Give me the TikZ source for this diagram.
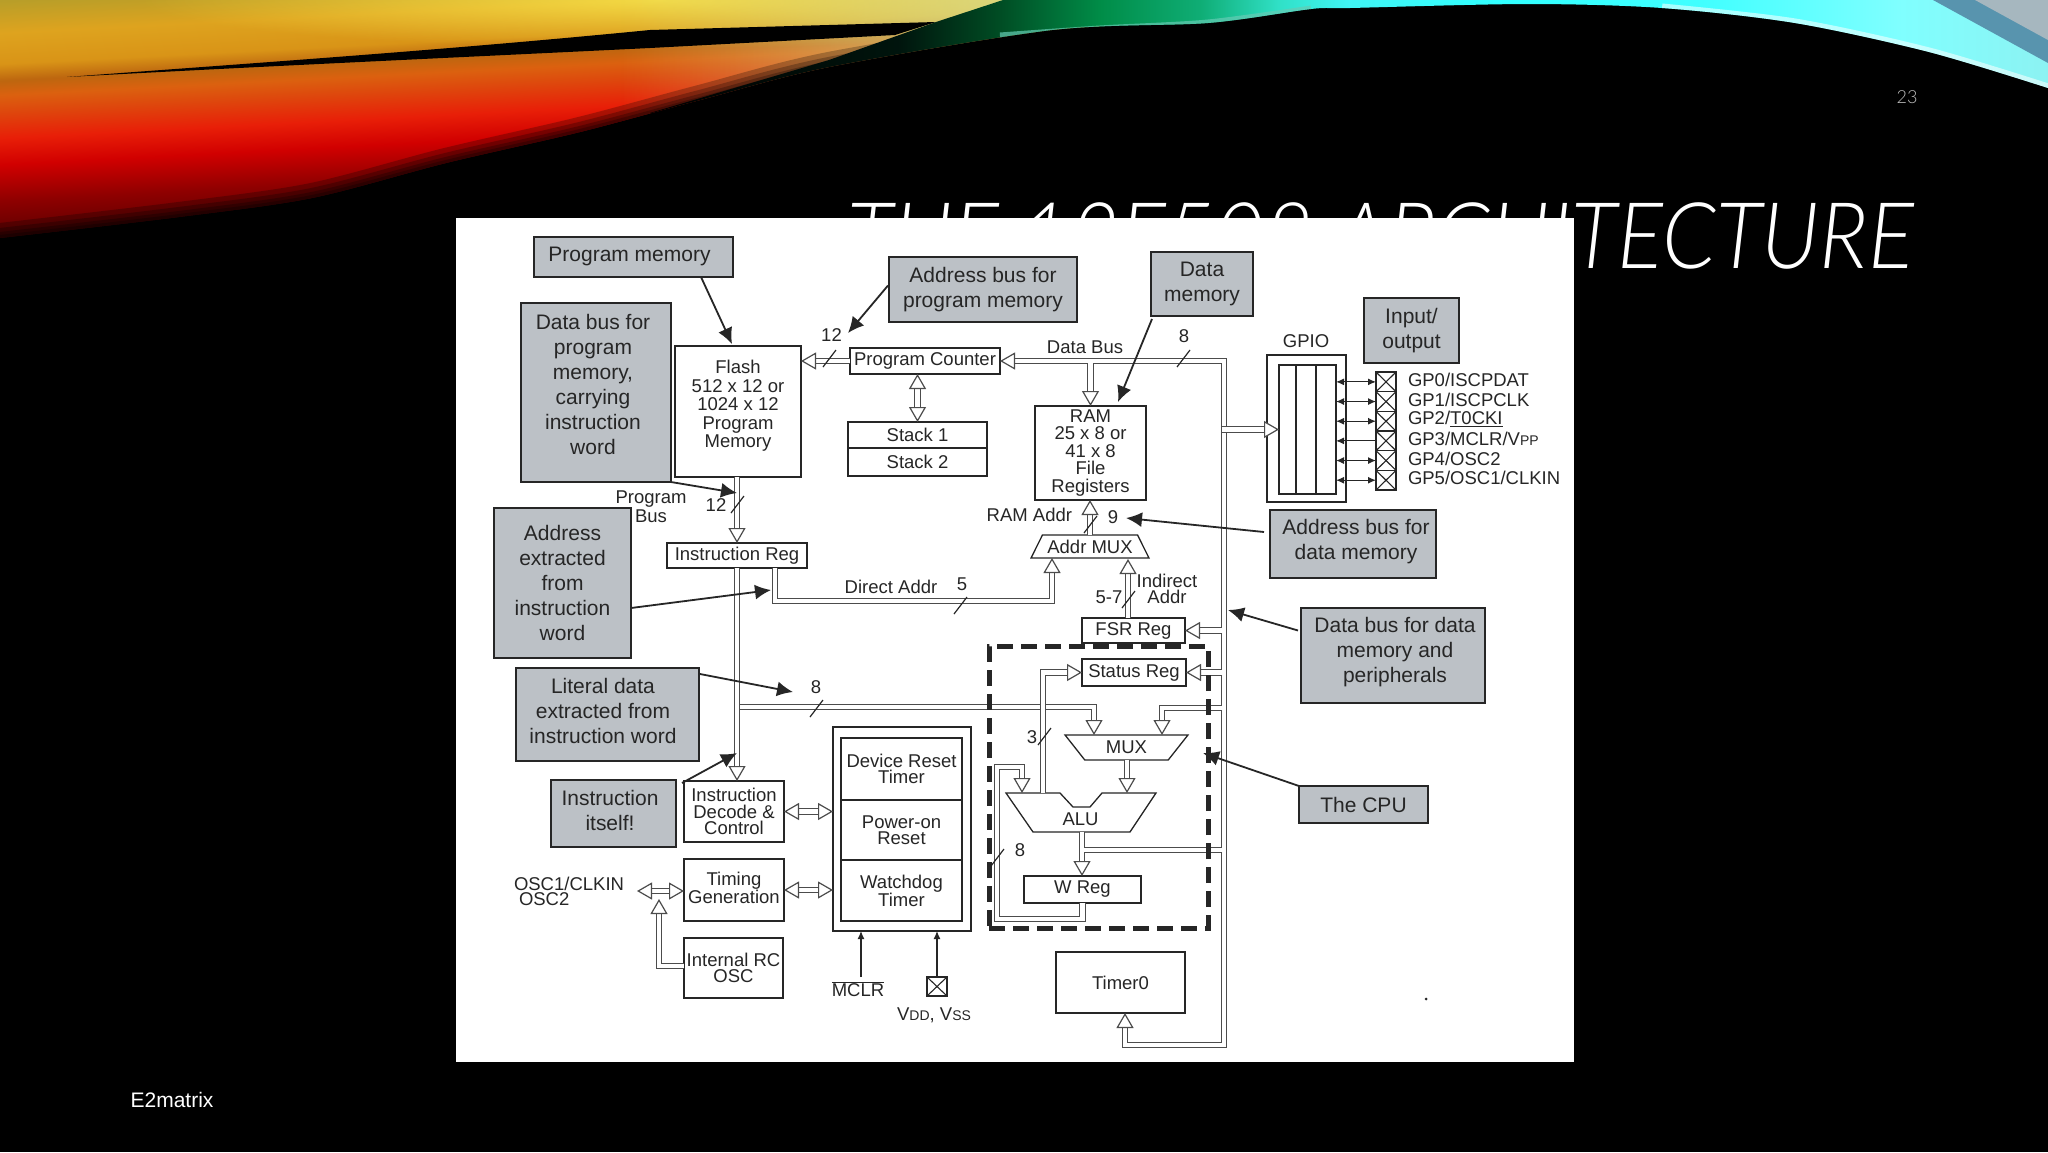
\documentclass[tikz,border=0pt]{standalone}
\usepackage{fontspec}
\usepackage{graphicx}
\setmainfont{Liberation Sans}
\newfontfamily\titlefont[ItalicFont={Lato Light Italic}]{Lato Light}
\usetikzlibrary{arrows.meta,calc,shapes.geometric,fadings}

\definecolor{calloutgray}{HTML}{BCC1C6}
\definecolor{inkgray}{HTML}{262626}
\newcommand{\calloutfont}{\fontsize{21pt}{25pt}\selectfont}
\newcommand{\blockfont}{\fontsize{18.5pt}{18.5pt}\selectfont}
\newcommand{\smallcap}[1]{{\fontsize{14pt}{14pt}\selectfont #1}}

\tikzfading[name=softglow,inner color=transparent!0,outer color=transparent!100]

\pgfdeclareverticalshading{warmband}{100bp}{
  rgb(0bp)=(.2,0,0);
  rgb(45.5bp)=(.38,0,0);
  rgb(46.9bp)=(.56,0,0);
  rgb(48.4bp)=(.82,0,0);
  rgb(49.5bp)=(.91,.12,.03);
  rgb(50.6bp)=(.87,.28,.05);
  rgb(51.3bp)=(.86,.38,.06);
  rgb(51.9bp)=(.74,.40,.06);
  rgb(52.6bp)=(.85,.58,.09);
  rgb(53.9bp)=(.87,.64,.12);
  rgb(55.25bp)=(.72,.62,.16);
  rgb(100bp)=(.72,.62,.16)}
\pgfdeclarehorizontalshading{coolband}{100bp}{
  rgb(0bp)=(0,0,0);
  rgb(25bp)=(0,0,0);
  rgb(33.9bp)=(0,.08,.05);
  rgb(37.5bp)=(0,.3,.14);
  rgb(41.1bp)=(0,.55,.28);
  rgb(44.7bp)=(.06,.68,.46);
  rgb(47.5bp)=(.19,.88,.78);
  rgb(50bp)=(.25,.96,.96);
  rgb(55.4bp)=(.19,1,1);
  rgb(62.6bp)=(.25,1,1);
  rgb(69.7bp)=(.5,1,1);
  rgb(75bp)=(.55,.95,.95);
  rgb(100bp)=(.55,.95,.95)}

\tikzset{
  hollow/.tip={Triangle[open,fill=white,length=15pt,width=17pt,line width=1.2pt]},
  solidtip/.tip={Latex[length=16pt,width=15pt]},
  pintip/.tip={Latex[length=8pt,width=7pt]},
  block/.style={draw=inkgray,fill=white,line width=1.3pt,inner sep=0pt,outer sep=0pt,
    align=center,text=inkgray,font=\blockfont},
  callout/.style={draw=inkgray,fill=calloutgray,line width=2.2pt,inner sep=0pt,outer sep=0pt,
    align=center,text=inkgray,font=\calloutfont},
  calltext/.style={inner sep=0pt,outer sep=0pt,align=center,text=inkgray,font=\calloutfont},
  label/.style={inner sep=0pt,outer sep=0pt,align=center,text=inkgray,font=\blockfont},
  tight/.style={font=\fontsize{18.5pt}{16.5pt}\selectfont},
  busline/.style={draw=black!70,line width=1.2pt,double=white,double distance=4.5pt},
  bus/.style={busline,-{hollow}},
  busboth/.style={busline,{hollow}-{hollow}},
  callarrow/.style={draw=inkgray,line width=1.8pt,-{solidtip}},
  pinboth/.style={draw=inkgray,line width=1.2pt,{pintip}-{pintip}},
  pinin/.style={draw=inkgray,line width=1.2pt,-{pintip}},
  tick/.style={draw=inkgray,line width=1.2pt},
  xbox/.style={draw=inkgray,line width=1.3pt,inner sep=0pt,outer sep=0pt,
    path picture={\draw[inkgray,line width=1.1pt]
      (path picture bounding box.north west) -- (path picture bounding box.south east)
      (path picture bounding box.north east) -- (path picture bounding box.south west);}}
}

\begin{document}
\begin{tikzpicture}[x=1pt,y=-1pt]
  \useasboundingbox (0,0) rectangle (2048,1152);
  \fill[black] (0,0) rectangle (2048,1152);

  % slide background
  \begin{scope}
    \clip plot[smooth] coordinates {(0,238) (179,217) (312,198) (446,163) (580,132) (700,100) (829,67) (1052,30) (1208,23) (1311,9) (1350,8) (1528,4) (1662,8) (1795,23) (1929,52) (2048,88)} -- (2048,0) -- (0,0) -- cycle;
    \shade[shading=warmband,shading angle=3] (-100,-500) rectangle (1100,700);
    \fill[yellow!65!white,opacity=.65,path fading=softglow] (660,0) ellipse (520 and 48);
    \fill[yellow!55!green!35!white,opacity=.7,path fading=west] (620,0) rectangle (1040,130);
    \foreach \w in {30,20,12,6}
      \draw[black,opacity=.25,line width=\w pt] plot[smooth] coordinates {(0,238) (179,217) (312,198) (446,163) (580,132) (700,100) (829,67) (1052,30)};
    \fill[black] (67,77) .. controls (268,62) and (446,50) .. (650,30) -- (936,22) -- (895,35) -- (650,48) .. controls (446,58) and (268,66) .. (67,77) -- cycle;
    \shade[shading=coolband] (650,113) -- (829,60) -- (936,22) -- (1003,0) -- (2048,0) -- (2048,120) -- (650,120) -- cycle;
    \draw[cyan!45!green!60!white,opacity=.7,line width=7pt] plot[smooth] coordinates {(1000,36) (1100,29) (1208,23) (1311,9)};
    \draw[white,opacity=.55,line width=9pt] plot[smooth] coordinates {(1662,8) (1795,23) (1929,52) (2048,88)};
    \fill[cyan!60!black!85!white] (1933,0) -- (2048,63) -- (2048,0) -- cycle;
    \fill[cyan!20!gray!70!white] (1975,0) -- (2048,40) -- (2048,0) -- cycle;
  \end{scope}

  \node[anchor=base east,inner sep=0pt,text=white,font=\fontsize{92pt}{92pt}\selectfont\titlefont\itshape] (title) at (1914,268) {\scalebox{0.931}[1]{THE 12F508 ARCHITECTURE}};
  \node[anchor=center,inner sep=0pt,text=white!75!black,font=\fontsize{18pt}{18pt}\selectfont\titlefont] (pageno) at (1907,97) {23};
  \node[anchor=center,inner sep=0pt,text=white,font=\fontsize{21pt}{21pt}\selectfont] (footer) at (172,1100) {E2matrix};
  \node[fill=white,inner sep=0pt,minimum width=1118pt,minimum height=844pt] (panel) at (1015,640) {};

  % grey notes
  \node[callout,minimum width=199pt,minimum height=40pt] (progmem) at (633.5,257) {};
  \node[calltext] (progmemtext) at (629.5,256) {Program memory};
  \node[callout,minimum width=188pt,minimum height=65pt] (addrprog) at (983,289.5) {Address bus for\\program memory};
  \node[callout,minimum width=102pt,minimum height=64pt] (datamem) at (1202,284) {Data\\memory};
  \node[callout,minimum width=95pt,minimum height=65pt] (inout) at (1411.5,330.5) {Input/\\output};
  \node[callout,minimum width=150pt,minimum height=179pt] (dbprog) at (596,392.5) {};
  \node[calltext] (dbprogtext) at (593,384) {Data bus for\\program\\memory,\\carrying\\instruction\\word};
  \node[callout,minimum width=137pt,minimum height=150pt] (addrext) at (562.5,583) {Address\\extracted\\from\\instruction\\word};
  \node[callout,minimum width=183pt,minimum height=93pt] (literal) at (607.5,714.5) {};
  \node[calltext] (literaltext) at (603,711) {Literal data\\extracted from\\instruction word};
  \node[callout,minimum width=125pt,minimum height=67pt] (itself) at (613.5,813.5) {};
  \node[calltext] (itselftext) at (610,810.5) {Instruction\\itself!};
  \node[callout,minimum width=166pt,minimum height=68pt] (addrdata) at (1353,544) {};
  \node[calltext] (addrdatatext) at (1356,541.5) {Address bus for\\data memory};
  \node[callout,minimum width=184pt,minimum height=95pt] (dbdata) at (1393,655.5) {};
  \node[calltext] (dbdatatext) at (1395,652) {Data bus for data\\memory and\\peripherals};
  \node[callout,minimum width=129pt,minimum height=37pt] (cpucall) at (1363.5,804.5) {The CPU};

  % blocks
  \node[block,minimum width=126pt,minimum height=131pt] (flash) at (738,411.5) {};
  \node[label] (flashtext) at (738,406) {Flash\\512 x 12 or\\1024 x 12\\Program\\Memory};
  \node[block,minimum width=150pt,minimum height=26pt] (pc) at (925,361) {Program Counter};
  \node[block,minimum width=139pt,minimum height=26pt] (stack1) at (917.5,435) {Stack 1};
  \node[block,minimum width=139pt,minimum height=28pt] (stack2) at (917.5,462) {Stack 2};
  \node[block,minimum width=140pt,minimum height=25pt] (ir) at (737,555.5) {Instruction Reg};
  \node[block,font=\fontsize{18.5pt}{17.5pt}\selectfont,minimum width=111pt,minimum height=94pt] (ram) at (1090.5,453) {RAM\\25 x 8 or\\41 x 8\\File\\Registers};
  \node[block,minimum width=103pt,minimum height=25pt] (fsr) at (1133.5,630.5) {FSR Reg};
  \node[block,minimum width=104pt,minimum height=27pt] (status) at (1134,672.5) {Status Reg};
  \node[block,minimum width=117pt,minimum height=27pt] (wreg) at (1082.5,889.5) {W Reg};
  \node[block,minimum width=129pt,minimum height=61pt] (timer) at (1120.5,982.5) {Timer0};
  \node[block,tight,minimum width=100pt,minimum height=61pt] (decode) at (734,811.5) {Instruction\\Decode \&\\Control};
  \node[block,minimum width=100pt,minimum height=62pt] (timing) at (734,890) {};
  \node[label] (timingtext) at (734,888) {Timing\\Generation};
  \node[block,tight,minimum width=99pt,minimum height=60pt] (rcosc) at (733.5,968) {Internal RC\\OSC};
  \node[block,minimum width=138pt,minimum height=204pt] (devblock) at (902,829) {};
  \node[block,tight,minimum width=121pt,minimum height=62pt] (devreset) at (901.5,769) {Device Reset\\Timer};
  \node[block,tight,minimum width=121pt,minimum height=60pt] (poweron) at (901.5,830) {Power-on\\Reset};
  \node[block,tight,minimum width=121pt,minimum height=61pt] (watchdog) at (901.5,890.5) {Watchdog\\Timer};
  \node[block,minimum width=79pt,minimum height=147pt] (gpio) at (1306.5,428.5) {};
  \node[block,minimum width=17pt,minimum height=129pt] (gpa) at (1287.5,429.5) {};
  \node[block,minimum width=20pt,minimum height=129pt] (gpb) at (1306,429.5) {};
  \node[block,minimum width=20pt,minimum height=129pt] (gpc) at (1326,429.5) {};
  \node[block,trapezium,trapezium stretches=true,trapezium left angle=53,trapezium right angle=53,minimum width=118pt,minimum height=23pt] (addrmux) at (1090,546.5) {Addr MUX};
  \node[block,trapezium,trapezium stretches=true,shape border rotate=180,trapezium left angle=53,trapezium right angle=53,minimum width=123pt,minimum height=25pt] (mux) at (1126.5,747.5) {MUX};
  \draw[draw=inkgray,fill=white,line width=1.3pt] (1006,793) -- (1060,793) -- (1073,807) -- (1090,807) -- (1102,793) -- (1156,793) -- (1130,832) -- (1033,832) -- cycle;
  \node[label] (alu) at (1080.5,819) {ALU};

  % pins
  \foreach \i [evaluate=\i as \gy using 362.2+19.67*\i] in {1,...,6}
    \node[xbox,minimum width=20pt,minimum height=19.67pt] (gp\i) at (1386,\gy) {};
  \foreach \lab [count=\i, evaluate=\i as \ly using 360.5+19.6*\i] in {GP0/ISCPDAT,GP1/ISCPCLK,GP2/\underline{T0CKI},GP3/MCLR/V\smallcap{PP},GP4/OSC2,GP5/OSC1/CLKIN}
    \node[label,anchor=west] (gpname\i) at (1408,\ly) {\lab};
  \foreach \i in {1,2,3,5,6}
    \draw[pinboth] (gpc.east |- gp\i.west) -- (gp\i.west);
  \draw[pinin] (gp4.west) -- (gpc.east |- gp4.west);

  % free ends of the connectors
  \foreach \n/\x/\y in {pmtip/732/344,aptip/848/333,dptip/737/493,aetip/771/590,dmtip/1118/402,
      adtip/1126/518,ddtip/1228/610,ldtip/793/692,ittip/737/753,cputip/1203/753,
      bustop/1224/361,busbot/1224/1045,tr/1222/0,dbusb/0/363,timerin/1125/1013,
      litout/740/707,muxa/1094/735,muxb/1162/735,muxbin/1222/708,muxout/1127/760,
      alua/1022/793,alub/1127/793,alus/1043/793,aluo/1082/832,aluw/1084/850,aluwin/1222/850,
      fba/997/919,fbb/1022/767,dirout/775/568,amuxa/1052/558,amuxb/1128/559,
      oscl/637/891,rcout/684/966,oscin/659/899,mclrin/861/977}
    \coordinate (\n) at (\x,\y);

  % buses
  \draw[bus] (pc.west) -- (flash.east |- pc.west);
  \draw[busboth] (stack1.north |- pc.south) -- (stack1.north);
  \draw[bus] (ir.north |- flash.south) -- (ir.north);
  \draw[bus] (ir.south) -- (ir.south |- decode.north);
  \draw[bus] (litout) -| (muxa);
  \draw[bus] (dirout) -- ++(0,33) -| (amuxa);
  \draw[bus] (amuxb |- fsr.north) -- (amuxb);
  \draw[bus] (addrmux.north) -- (addrmux.north |- ram.south);
  \draw[busboth] (pc.east) -- (bustop) -- (busbot) -| (timerin);
  \draw[bus] (ram.north |- dbusb) -- (ram.north);
  \draw[bus] (tr |- gpa.west) -- (gpa.west);
  \draw[bus] (tr |- fsr.east) -- (fsr.east);
  \draw[bus] (tr |- status.east) -- (status.east);
  \draw[bus] (muxbin) -| (muxb);
  \draw[bus] (alus) |- (status.west);
  \draw[bus] (muxout) -- (alub);
  \draw[bus] (aluo) -- (aluo |- wreg.north);
  \draw[busline] (aluwin) -- (aluw);
  \draw[bus] (wreg.south) |- (fba) |- (fbb) -- (alua);
  \draw[busboth] (decode.east) -- (devblock.west |- decode.east);
  \draw[busboth] (timing.east) -- (devblock.west |- timing.east);
  \draw[busboth] (oscl) -- (timing.west |- oscl);
  \draw[bus] (rcout) -| (oscin);

  % note arrows
  \draw[callarrow] ($(progmem.south east)+(-32,0)$) -- (pmtip);
  \draw[callarrow] ($(addrprog.west)+(-1,-4)$) -- (aptip);
  \draw[callarrow] (dbprog.south east) -- (dptip);
  \draw[callarrow] ($(addrext.east)+(0,25)$) -- (aetip);
  \draw[callarrow] ($(datamem.south west)+(1,3)$) -- (dmtip);
  \draw[callarrow] ($(addrdata.west)+(-6,-12)$) -- (adtip);
  \draw[callarrow] ($(dbdata.west)+(-3,-25)$) -- (ddtip);
  \draw[callarrow] ($(literal.north east)+(1,6)$) -- (ldtip);
  \draw[callarrow] ($(itself.north east)+(6,3)$) -- (ittip);
  \draw[callarrow] (cpucall.north west) -- (cputip);

  % CPU outline
  \node[draw=inkgray,line width=5pt,dash pattern=on 16pt off 8pt,inner sep=0pt,minimum width=219pt,minimum height=282pt] (cpu) at (1098.5,787) {};

  % bus widths
  \foreach \x/\y in {823/367,731/513,954/614,1177/367,1084/533,1122/608,1038/745,991/866,810/717}
    \draw[tick] (\x,\y) -- ++(13,-17);
  \foreach \n/\x/\y/\txt in {wa/831.5/335/12,wb/716/505/12,wc/1184/336/8,wd/962/584/5,we/1113/517/9,wf/1109/597/5-7,wg/816/687/8,wh/1032/737/3,wi/1020/850/8}
    \node[label] (\n) at (\x,\y) {\txt};

  % labels
  \node[label,font=\fontsize{18.5pt}{19pt}\selectfont] (progbus) at (651,507) {Program\\Bus};
  \node[label] (databus) at (1085,347) {Data Bus};
  \node[label] (gpiolabel) at (1306,341) {GPIO};
  \node[label,anchor=east] (ramaddr) at (1072,515) {RAM Addr};
  \node[label,font=\fontsize{18.5pt}{16pt}\selectfont] (indaddr) at (1167,589) {Indirect\\Addr};
  \node[label] (diraddr) at (891,587) {Direct Addr};
  \node[label,anchor=west,font=\fontsize{18.5pt}{15.5pt}\selectfont,align=left] (osclabel) at (514,891.5) {OSC1/CLKIN\\\hspace*{5pt}OSC2};
  \node[label] (mclr) at (858,989) {$\overline{\mbox{MCLR}}$};
  \node[xbox,minimum width=20pt,minimum height=19pt] (vddbox) at (937,986.5) {};
  \node[label] (vddvss) at (934,1015) {V\smallcap{DD}, V\smallcap{SS}};
  \draw[pinin] (mclrin) -- (mclrin |- devblock.south);
  \draw[pinin] (vddbox.north) -- (vddbox.north |- devblock.south);
  \fill[inkgray] (1426,999) circle (1.5);
\end{tikzpicture}
\end{document}
